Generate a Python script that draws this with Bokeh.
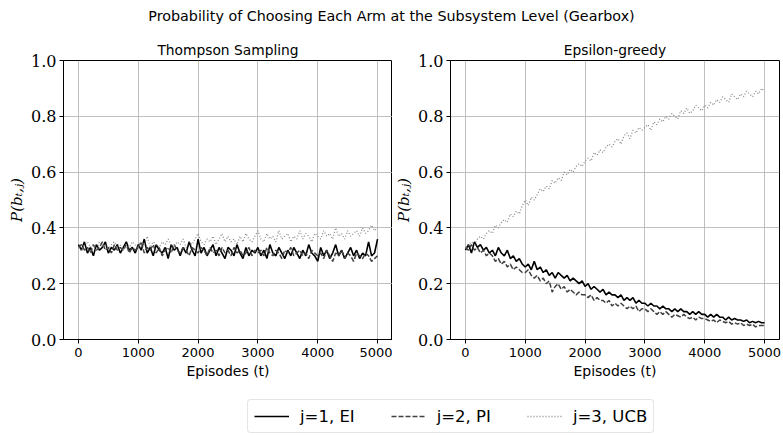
from bokeh.plotting import figure
from bokeh.models import Range1d, FixedTicker, PrintfTickFormatter, Label, Legend, LegendItem
from bokeh.layouts import column, row
from bokeh.embed import file_html
from bokeh.resources import INLINE

SUPTITLE = "Probability of Choosing Each Arm at the Subsystem Level (Gearbox)"
PANEL_TITLES = ["Thompson Sampling", "Epsilon-greedy"]
SERIES_NAMES = ["j=1, EI", "j=2, PI", "j=3, UCB"]
X_LABEL = "Episodes (t)"
Y_LABEL = "P(b\u209c,\u2c7c)"
X_TICKS = [0, 1000, 2000, 3000, 4000, 5000]
Y_TICKS = [0.0, 0.2, 0.4, 0.6, 0.8, 1.0]
STEP = 50  # episodes between samples

ts_ei = [0.34, 0.32, 0.35, 0.31, 0.33, 0.30, 0.34, 0.32, 0.33, 0.35, 0.31, 0.33, 0.32, 0.34, 0.31, 0.33, 0.35, 0.32, 0.33, 0.31,
         0.34, 0.32, 0.36, 0.31, 0.33, 0.30, 0.34, 0.32, 0.31, 0.33, 0.29, 0.34, 0.32, 0.33, 0.30, 0.33, 0.31, 0.35, 0.32, 0.30,
         0.36, 0.31, 0.33, 0.30, 0.32, 0.34, 0.30, 0.33, 0.31, 0.29, 0.33, 0.32, 0.30, 0.34, 0.31, 0.29, 0.33, 0.30, 0.32, 0.31,
         0.33, 0.30, 0.32, 0.29, 0.34, 0.31, 0.30, 0.33, 0.31, 0.29, 0.32, 0.30, 0.33, 0.31, 0.29, 0.32, 0.30, 0.34, 0.31, 0.30,
         0.28, 0.33, 0.30, 0.32, 0.29, 0.31, 0.34, 0.30, 0.32, 0.29, 0.31, 0.33, 0.30, 0.32, 0.29, 0.31, 0.30, 0.35, 0.30, 0.31,
         0.36]
ts_pi = [0.33, 0.34, 0.32, 0.33, 0.31, 0.34, 0.32, 0.33, 0.35, 0.32, 0.33, 0.31, 0.34, 0.32, 0.33, 0.32, 0.34, 0.31, 0.33, 0.32,
         0.33, 0.35, 0.31, 0.33, 0.32, 0.34, 0.31, 0.33, 0.30, 0.32, 0.33, 0.31, 0.34, 0.32, 0.31, 0.33, 0.32, 0.30, 0.33, 0.32,
         0.31, 0.33, 0.32, 0.30, 0.33, 0.31, 0.32, 0.30, 0.33, 0.31, 0.32, 0.30, 0.33, 0.31, 0.32, 0.30, 0.31, 0.33, 0.30, 0.32,
         0.31, 0.32, 0.30, 0.33, 0.31, 0.30, 0.32, 0.31, 0.29, 0.32, 0.31, 0.33, 0.30, 0.31, 0.32, 0.30, 0.31, 0.29, 0.32, 0.31,
         0.30, 0.31, 0.29, 0.32, 0.30, 0.28, 0.31, 0.30, 0.32, 0.29, 0.31, 0.30, 0.28, 0.31, 0.30, 0.29, 0.31, 0.30, 0.28, 0.29,
         0.30]
ts_ucb = [0.33, 0.32, 0.34, 0.35, 0.33, 0.34, 0.32, 0.35, 0.33, 0.34, 0.32, 0.34, 0.35, 0.33, 0.34, 0.32, 0.34, 0.33, 0.35, 0.34,
          0.33, 0.35, 0.34, 0.37, 0.33, 0.35, 0.34, 0.33, 0.35, 0.34, 0.36, 0.34, 0.33, 0.35, 0.34, 0.36, 0.33, 0.35, 0.34, 0.36,
          0.38, 0.35, 0.34, 0.36, 0.35, 0.37, 0.34, 0.36, 0.38, 0.35, 0.37, 0.35, 0.36, 0.34, 0.37, 0.35, 0.38, 0.36, 0.35, 0.37,
          0.39, 0.36, 0.35, 0.38, 0.36, 0.37, 0.35, 0.39, 0.36, 0.37, 0.38, 0.35, 0.37, 0.36, 0.39, 0.36, 0.38, 0.37, 0.35, 0.38,
          0.37, 0.36, 0.39, 0.37, 0.38, 0.36, 0.40, 0.37, 0.38, 0.36, 0.39, 0.37, 0.38, 0.39, 0.37, 0.40, 0.38, 0.39, 0.41, 0.39,
          0.40]

eg_ei = [0.32, 0.34, 0.31, 0.35, 0.33, 0.34, 0.32, 0.33, 0.31, 0.32, 0.30, 0.33, 0.31, 0.30, 0.32, 0.29, 0.30, 0.28, 0.29, 0.27,
         0.26, 0.27, 0.25, 0.28, 0.25, 0.26, 0.24, 0.25, 0.23, 0.24, 0.22, 0.24, 0.23, 0.22, 0.23, 0.21, 0.22, 0.21, 0.20, 0.21,
         0.19, 0.20, 0.18, 0.19, 0.18, 0.17, 0.18, 0.16, 0.17, 0.16, 0.16, 0.15, 0.16, 0.14, 0.15, 0.14, 0.15, 0.13, 0.14, 0.13,
         0.13, 0.12, 0.13, 0.12, 0.12, 0.11, 0.12, 0.11, 0.11, 0.10, 0.11, 0.10, 0.11, 0.10, 0.10, 0.09, 0.10, 0.09, 0.10, 0.09,
         0.09, 0.08, 0.09, 0.08, 0.09, 0.08, 0.08, 0.07, 0.08, 0.07, 0.075, 0.07, 0.07, 0.065, 0.07, 0.06, 0.065, 0.06, 0.065, 0.06,
         0.06]
eg_pi = [0.33, 0.32, 0.34, 0.32, 0.33, 0.31, 0.32, 0.30, 0.31, 0.30, 0.28, 0.29, 0.27, 0.28, 0.26, 0.27, 0.25, 0.26, 0.25, 0.24,
         0.24, 0.25, 0.23, 0.22, 0.23, 0.21, 0.22, 0.20, 0.21, 0.17, 0.19, 0.20, 0.18, 0.19, 0.17, 0.18, 0.17, 0.16, 0.17, 0.16,
         0.16, 0.15, 0.16, 0.14, 0.15, 0.14, 0.14, 0.13, 0.14, 0.12, 0.13, 0.12, 0.13, 0.12, 0.11, 0.12, 0.11, 0.12, 0.10, 0.11,
         0.11, 0.10, 0.11, 0.10, 0.09, 0.10, 0.09, 0.10, 0.09, 0.08, 0.09, 0.085, 0.08, 0.09, 0.08, 0.075, 0.08, 0.07, 0.08, 0.075,
         0.075, 0.07, 0.065, 0.07, 0.06, 0.07, 0.065, 0.06, 0.065, 0.055, 0.06, 0.055, 0.06, 0.05, 0.055, 0.05, 0.055, 0.045, 0.05, 0.05,
         0.05]
eg_ucb = [0.33, 0.34, 0.35, 0.34, 0.36, 0.37, 0.36, 0.38, 0.39, 0.38, 0.41, 0.40, 0.42, 0.43, 0.42, 0.45, 0.44, 0.46, 0.45, 0.48,
          0.50, 0.48, 0.51, 0.50, 0.52, 0.54, 0.53, 0.55, 0.54, 0.57, 0.56, 0.58, 0.57, 0.60, 0.59, 0.61, 0.60, 0.62, 0.63, 0.62,
          0.64, 0.65, 0.64, 0.67, 0.66, 0.68, 0.67, 0.69, 0.70, 0.69, 0.71, 0.72, 0.70, 0.73, 0.74, 0.72, 0.75, 0.74, 0.76, 0.75,
          0.76, 0.77, 0.75, 0.78, 0.77, 0.79, 0.78, 0.80, 0.79, 0.81, 0.80, 0.79, 0.82, 0.81, 0.83, 0.81, 0.82, 0.84, 0.83, 0.82,
          0.84, 0.83, 0.85, 0.84, 0.86, 0.85, 0.87, 0.86, 0.85, 0.88, 0.87, 0.86, 0.88, 0.87, 0.89, 0.88, 0.87, 0.89, 0.88, 0.90,
          0.89]

STYLES = [
    dict(line_color="black", line_width=1.6),
    dict(line_color="#404040", line_width=1.5, line_dash="5 2"),
    dict(line_color="#8a8a8a", line_width=1.3, line_dash="1 2"),
]

SANS = "DejaVu Sans"
SERIF = "DejaVu Serif"


def episodes(vals):
    return [i * STEP for i in range(len(vals))]


def panel(title, series, width, left, right):
    p = figure(width=width, height=360, output_backend="svg", toolbar_location=None,
               x_range=Range1d(-250, 5250), y_range=Range1d(0, 1),
               min_border_left=left, min_border_right=right, min_border_top=30, min_border_bottom=51)
    for vals, st in zip(series, STYLES):
        p.line(episodes(vals), vals, **st)
    p.title.text = title
    p.title.align = "center"
    p.title.text_font = SANS
    p.title.text_font_size = "13.8px"
    p.title.text_font_style = "normal"
    p.title.text_color = "black"
    p.title.standoff = 6
    p.xaxis.ticker = FixedTicker(ticks=X_TICKS)
    p.yaxis.ticker = FixedTicker(ticks=Y_TICKS)
    p.yaxis.formatter = PrintfTickFormatter(format="%.1f")
    for ax in (p.xaxis, p.yaxis):
        ax.axis_line_color = "black"
        ax.major_tick_line_color = "black"
        ax.major_tick_out = 4
        ax.major_tick_in = 0
        ax.minor_tick_line_color = None
        ax.axis_label_text_font_style = "normal"
        ax.axis_label_text_color = "black"
        ax.major_label_text_color = "black"
    p.xaxis.major_label_text_font = SANS
    p.xaxis.major_label_text_font_size = "13px"
    p.xaxis.major_label_standoff = 4
    p.xaxis.axis_label = X_LABEL
    p.xaxis.axis_label_text_font = SANS
    p.xaxis.axis_label_text_font_size = "14px"
    p.xaxis.axis_label_standoff = 3
    p.yaxis.major_label_text_font = SERIF
    p.yaxis.major_label_text_font_size = "16px"
    p.yaxis.major_label_standoff = 3
    p.yaxis.axis_label = Y_LABEL
    p.yaxis.axis_label_text_font = SERIF
    p.yaxis.axis_label_text_font_style = "italic"
    p.yaxis.axis_label_text_font_size = "15px"
    p.yaxis.axis_label_standoff = 2
    p.grid.grid_line_color = "#b0b0b0"
    p.grid.grid_line_width = 0.8
    p.outline_line_color = "black"
    p.outline_line_width = 1
    p.outline_line_alpha = 1
    return p


p1 = panel(PANEL_TITLES[0], [ts_ei, ts_pi, ts_ucb], 392, 63, 0)
p2 = panel(PANEL_TITLES[1], [eg_ei, eg_pi, eg_ucb], 391, 58, 4)

pt = figure(width=783, height=30, output_backend="svg", toolbar_location=None,
            x_range=Range1d(0, 783), y_range=Range1d(0, 30), x_axis_type=None, y_axis_type=None,
            min_border=0)
pt.outline_line_color = None
pt.add_layout(Label(x=391, y=15, text=SUPTITLE, text_align="center", text_baseline="middle",
                    text_font=SANS, text_font_size="14.3px", text_color="black"))

pl = figure(width=783, height=45, output_backend="svg", toolbar_location=None,
            x_range=Range1d(0, 783), y_range=Range1d(0, 45), x_axis_type=None, y_axis_type=None,
            min_border=0)
pl.outline_line_color = None
items = []
for name, st in zip(SERIES_NAMES, STYLES):
    # legend-only handle: a tiny segment kept outside the visible range
    r = pl.line([-100, -90], [-100, -100], **st)
    items.append(LegendItem(label=name, renderers=[r]))
leg = Legend(items=items, orientation="horizontal", location=(247, 2),
             glyph_width=35, glyph_height=20, label_standoff=11, spacing=36, padding=6, margin=0,
             label_text_font=SANS, label_text_font_size="16.5px", label_text_color="black", label_height=20,
             border_line_color="#cccccc", border_line_width=1, background_fill_alpha=1)
try:
    leg.border_radius = 4
except Exception:
    pass
pl.add_layout(leg, "center")

layout = column(pt, row(p1, p2), pl)
open("out.html", "w").write(file_html(layout, INLINE))
